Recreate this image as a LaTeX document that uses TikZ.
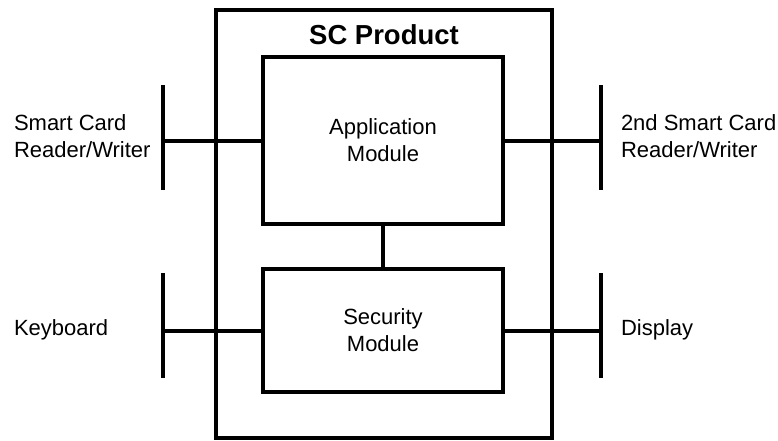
\documentclass[tikz,border=0pt]{standalone}
\usepackage{fontspec}
\setmainfont{Liberation Sans}
\usetikzlibrary{positioning}

\begin{document}
\begin{tikzpicture}[x=0.75pt,y=-0.75pt,line width=3pt,
  module/.style={draw,line width=3pt,minimum width=180pt,align=center,
    font=\fontsize{16.5}{20.25}\selectfont},
  bar/.style={inner sep=0pt,minimum width=0pt,minimum height=75.75pt},
  label/.style={inner sep=0pt,align=left,anchor=west,
    font=\fontsize{16.5}{20.25}\selectfont}]
\useasboundingbox (0,0) rectangle (778,440);

% Product enclosure
\draw (216,10) rectangle (552,438);
\node[font=\fontsize{20.6}{24}\selectfont\bfseries] (title) at (384,35) {SC Product};

% Modules
\node[module,minimum height=125.25pt] (app) at (383,140.5) {Application\\Module};
\node[module,minimum height=92.25pt] (sec) at (383,330.5) {Security\\Module};
\draw (app.south) -- (sec.north);

% External devices
\node[bar] (scrw) at (163,137.5) {};
\node[bar] (kbd) at (163,325.5) {};
\node[bar] (scrw2) at (601,137.5) {};
\node[bar] (disp) at (601,325.5) {};
\foreach \b in {scrw,kbd,scrw2,disp}
  \draw (\b.north) -- (\b.south);

\draw (app.west) -- (app.west -| scrw);
\draw (sec.west) -- (sec.west -| kbd);
\draw (app.east) -- (app.east -| scrw2);
\draw (sec.east) -- (sec.east -| disp);

% Device labels
\node[label] (scrwlbl) at (12,136) {Smart Card\\Reader/Writer};
\node[label] (kbdlbl) at (12,329.5) {Keyboard};
\node[label] (scrw2lbl) at (619,136) {2nd Smart Card\\Reader/Writer};
\node[label] (displbl) at (619,329.5) {Display};
\end{tikzpicture}
\end{document}
